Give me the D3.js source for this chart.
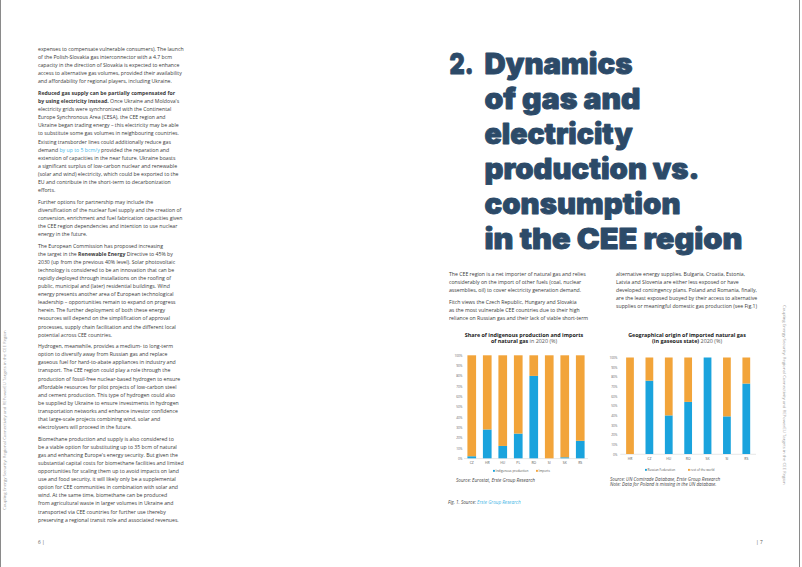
<!DOCTYPE html>
<html><head><meta charset="utf-8">
<script src="https://cdn.jsdelivr.net/npm/d3@7"></script>
<style>html,body{margin:0;padding:0;background:#fff;}svg{display:block}</style>
</head><body>
<svg id="c" width="802" height="567"></svg>
<script>
// ---------- chart data ----------
const c1Categories = ["CZ","HR","HU","PL","RO","SI","SK","RS"];
const c1Indigenous = [2, 28, 12, 24, 80, 0, 1, 17];
const c1Imports    = [98, 72, 88, 76, 20, 100, 99, 83];
const c1Series = ["Indigenous production","Imports"];

const c2Categories = ["HR","CZ","HU","RO","SK","SI","RS"];
const c2Russia = [0, 76, 40, 54, 100, 39, 73];
const c2Rest   = [100, 24, 60, 46, 0, 61, 27];
const c2Series = ["Russian Federation","rest of the world"];

const yTickValues = [0,10,20,30,40,50,60,70,80,90,100];

const BLUE = "#1aa3dd", ORANGE = "#f2a43a", TEXT = "#3a3a3a", NAVY = "#2c4a68", LINK = "#3fb6e6";
const BODY_FONT = "'Open Sans', 'Noto Sans', sans-serif";

const svg = d3.select("#c");
svg.append("rect").attr("width",802).attr("height",567).attr("fill","#fff");

// page edges
svg.append("line").attr("x1",0.5).attr("x2",0.5).attr("y1",0).attr("y2",567).attr("stroke","#8a8a8a").attr("stroke-width",1);
svg.append("line").attr("x1",799.5).attr("x2",799.5).attr("y1",0).attr("y2",567).attr("stroke","#8a8a8a").attr("stroke-width",1);

// ---------- text helper ----------
// markup: **bold**, [[link]]
function parseSegs(line){
  const out=[]; const re=/(\*\*[^*]+\*\*|\[\[[^\]]+\]\])/g; let last=0, m;
  while((m=re.exec(line))){ if(m.index>last) out.push({t:line.slice(last,m.index)});
    const s=m[0]; if(s.startsWith("**")) out.push({t:s.slice(2,-2),b:true}); else out.push({t:s.slice(2,-2),l:true});
    last=m.index+s.length; }
  if(last<line.length) out.push({t:line.slice(last)});
  return out;
}
function block(g, x, y0, lh, pgap, paras, size, opts={}){
  let y=y0;
  paras.forEach(p=>{ p.forEach(line=>{
      const t=g.append("text").attr("x",x).attr("y",y).attr("font-family",opts.font||BODY_FONT)
        .attr("font-size",size).attr("fill",opts.fill||TEXT).attr("font-style",opts.italic?"italic":null);
      parseSegs(line).forEach(s=>{ t.append("tspan").text(s.t)
        .attr("font-weight",s.b?700:null).attr("fill",s.l?LINK:null); });
      y+=lh; });
    y+=pgap; });
}

// ---------- left page body ----------
const leftParas = [
 ["expenses to compensate vulnerable consumers). The launch",
  "of the Polish-Slovakia gas interconnector with a 4.7 bcm",
  "capacity in the direction of Slovakia is expected to enhance",
  "access to alternative gas volumes, provided their availability",
  "and affordability for regional players, including Ukraine."],
 ["**Reduced gas supply can be partially compensated for**",
  "**by using electricity instead.** Once Ukraine and Moldova's",
  "electricity grids were synchronized with the Continental",
  "Europe Synchronous Area (CESA), the CEE region and",
  "Ukraine began trading energy – this electricity may be able",
  "to substitute some gas volumes in neighbouring countries.",
  "Existing transborder lines could additionally reduce gas",
  "demand [[by up to 5 bcm/y]] provided the reparation and",
  "extension of capacities in the near future. Ukraine boasts",
  "a significant surplus of low-carbon nuclear and renewable",
  "(solar and wind) electricity, which could be exported to the",
  "EU and contribute in the short-term to decarbonization",
  "efforts."],
 ["Further options for partnership may include the",
  "diversification of the nuclear fuel supply and the creation of",
  "conversion, enrichment and fuel fabrication capacities given",
  "the CEE region dependencies and intention to use nuclear",
  "energy in the future."],
 ["The European Commission has proposed increasing",
  "the target in the **Renewable Energy** Directive to 45% by",
  "2030 (up from the previous 40% level). Solar photovoltaic",
  "technology is considered to be an innovation that can be",
  "rapidly deployed through installations on the roofing of",
  "public, municipal and (later) residential buildings. Wind",
  "energy presents another area of European technological",
  "leadership – opportunities remain to expand on progress",
  "herein. The further deployment of both these energy",
  "resources will depend on the simplification of approval",
  "processes, supply chain facilitation and the different local",
  "potential across CEE countries."],
 ["Hydrogen, meanwhile, provides a medium- to long-term",
  "option to diversify away from Russian gas and replace",
  "gaseous fuel for hard-to-abate appliances in industry and",
  "transport. The CEE region could play a role through the",
  "production of fossil-free nuclear-based hydrogen to ensure",
  "affordable resources for pilot projects of low-carbon steel",
  "and cement production. This type of hydrogen could also",
  "be supplied by Ukraine to ensure investments in hydrogen",
  "transportation networks and enhance investor confidence",
  "that large-scale projects combining wind, solar and",
  "electrolysers will proceed in the future."],
 ["Biomethane production and supply is also considered to",
  "be a viable option for substituting up to 35 bcm of natural",
  "gas and enhancing Europe's energy security. But given the",
  "substantial capital costs for biomethane facilities and limited",
  "opportunities for scaling them up to avoid impacts on land",
  "use and food security, it will likely only be a supplemental",
  "option for CEE communities in combination with solar and",
  "wind. At the same time, biomethane can be produced",
  "from agricultural waste in larger volumes in Ukraine and",
  "transported via CEE countries for further use thereby",
  "preserving a regional transit role and associated revenues."]
];

// calibrate body font size so the reference line is ~146px wide
const probe = svg.append("text").attr("font-family",BODY_FONT).attr("font-size",10).text(leftParas[0][0]);
const bodySize = 10*146/probe.node().getComputedTextLength();
probe.remove();

block(svg.append("g"), 38, 51, 8.1, 3.4, leftParas, bodySize);

// ---------- right page body ----------
block(svg.append("g"), 449, 276, 8.0, 4, [
 ["The CEE region is a net importer of natural gas and relies",
  "considerably on the import of other fuels (coal, nuclear",
  "assemblies, oil) to cover electricity generation demand."],
 ["Fitch views the Czech Republic, Hungary and Slovakia",
  "as the most vulnerable CEE countries due to their high",
  "reliance on Russian gas and their lack of viable short-term"]], bodySize);
block(svg.append("g"), 616, 276, 8.0, 4, [
 ["alternative energy supplies. Bulgaria, Croatia, Estonia,",
  "Latvia and Slovenia are either less exposed or have",
  "developed contingency plans. Poland and Romania, finally,",
  "are the least exposed buoyed by their access to alternative",
  "supplies or meaningful domestic gas production (see Fig.1)"]], bodySize);

// ---------- headline ----------
const head = svg.append("g").attr("fill",NAVY).attr("stroke",NAVY).attr("stroke-width",0.9).attr("stroke-linejoin","round")
  .attr("font-family","'Inter','Roboto','Open Sans',sans-serif").attr("font-weight",900).attr("font-size",28.5);
head.append("text").attr("x",449.5).attr("y",73.5).attr("textLength",24).attr("lengthAdjust","spacingAndGlyphs").text("2.");
const headLines = [["Dynamics",73.5,148],["of gas and",108.5,156],["electricity",143.5,148],["production vs.",178.5,215],["consumption",213.5,196],["in the CEE region",248.5,258]];
headLines.forEach(([t,y,w])=>head.append("text").attr("x",484.5).attr("y",y).attr("textLength",w).attr("lengthAdjust","spacingAndGlyphs").text(t));

// ---------- charts ----------
function drawChart(opt){
  const g = svg.append("g");
  const x = d3.scaleBand().domain(opt.cats).range(opt.xRange).paddingInner(opt.pad).paddingOuter(opt.pad/2);
  const y = d3.scaleLinear().domain([0,100]).range(opt.yRange);
  const rows = opt.cats.map((c,i)=>({cat:c, a:opt.a[i], b:opt.b[i]}));
  const stack = d3.stack().keys(["a","b"])(rows);
  const colors = [BLUE, ORANGE];
  // title
  opt.title.forEach((line,i)=>{
    const t=g.append("text").attr("x",opt.titleX).attr("y",opt.titleY+i*6.8).attr("text-anchor","middle")
      .attr("font-family",BODY_FONT).attr("font-size",5.4).attr("fill","#222");
    parseSegs(line).forEach(s=>t.append("tspan").text(s.t).attr("font-weight",s.b?700:400).attr("fill",s.b?"#222":"#555"));
  });
  // y axis
  const ya = g.append("g").attr("transform",`translate(${opt.yLabelX},0)`)
    .call(d3.axisLeft(y).tickValues(yTickValues).tickFormat(d=>d+"%").tickSize(0).tickPadding(0));
  ya.select(".domain").remove();
  ya.selectAll("text").attr("font-size",3.2).attr("font-family",BODY_FONT).attr("fill","#666");
  // baseline
  g.append("line").attr("x1",opt.xRange[0]).attr("x2",opt.xRange[1]).attr("y1",y(0)+0.3).attr("y2",y(0)+0.3).attr("stroke","#cfcfcf").attr("stroke-width",0.5);
  // bars
  stack.forEach((s,si)=>{
    g.append("g").attr("fill",colors[si]).selectAll("rect").data(s).join("rect")
      .attr("x",d=>x(d.data.cat)).attr("width",x.bandwidth())
      .attr("y",d=>y(d[1])).attr("height",d=>y(d[0])-y(d[1]));
  });
  // x axis labels
  const xa = g.append("g").attr("transform",`translate(0,${y(0)})`)
    .call(d3.axisBottom(x).tickSize(0).tickPadding(opt.xPad));
  xa.select(".domain").remove();
  xa.selectAll("text").attr("font-size",3.4).attr("font-family",BODY_FONT).attr("fill","#555");
  // legend
  const lg = g.append("g").attr("font-family",BODY_FONT).attr("font-size",3.1).attr("fill","#555");
  opt.series.forEach((name,i)=>{
    const lx = opt.legendX[i];
    lg.append("rect").attr("x",lx).attr("y",opt.legendY-2.1).attr("width",1.9).attr("height",1.9).attr("fill",colors[i]);
    lg.append("text").attr("x",lx+2.6).attr("y",opt.legendY).text(name);
  });
  // source
  opt.source.forEach((s,i)=>g.append("text").attr("x",opt.sourceX).attr("y",opt.sourceY+i*5.6)
    .attr("font-family",BODY_FONT).attr("font-style","italic").attr("font-size",4.6).attr("fill","#444").text(s));
}

drawChart({cats:c1Categories, a:c1Indigenous, b:c1Imports, series:c1Series,
  xRange:[464,588], pad:0.44, yRange:[458.3,355.3], yLabelX:462.5, xPad:3.5,
  title:["**Share of indigenous production and imports**","**of natural gas** in 2020 (%)"], titleX:524, titleY:336.5,
  legendX:[493,536], legendY:472, source:["Source: Eurostat, Erste Group Research"], sourceX:456, sourceY:481.5});

drawChart({cats:c2Categories, a:c2Russia, b:c2Rest, series:c2Series,
  xRange:[620.3,756], pad:0.6, yRange:[454,357.5], yLabelX:617.5, xPad:4,
  title:["**Geographical origin of imported natural gas**","**(in gaseous state)** 2020 (%)"], titleX:687, titleY:336.5,
  legendX:[645,688], legendY:471, source:["Source: UN Comtrade Database, Erste Group Research","Note: Data for Poland is missing in the UN database."], sourceX:610, sourceY:480.5});

// figure caption
const cap = svg.append("text").attr("x",448).attr("y",503.5).attr("font-family",BODY_FONT).attr("font-style","italic").attr("font-size",4.6).attr("fill","#444");
cap.append("tspan").text("Fig. 1. Source: ");
cap.append("tspan").attr("fill",LINK).text("Erste Group Research");

// side running titles
const runTitle = "Coupling Energy Security: Regional Connectivity and REPowerEU Targets in the CEE Region";
svg.append("text").attr("transform","translate(5.5,510) rotate(-90)").attr("font-family",BODY_FONT).attr("font-size",4.3).attr("fill","#9a9a9a").text(runTitle);
svg.append("text").attr("transform","translate(782.5,305) rotate(90)").attr("font-family",BODY_FONT).attr("font-size",4.3).attr("fill","#9a9a9a").text(runTitle);

// page numbers
svg.append("text").attr("x",38).attr("y",544).attr("font-family",BODY_FONT).attr("font-size",4.8).attr("fill","#555").text("6 |");
svg.append("text").attr("x",756).attr("y",544).attr("font-family",BODY_FONT).attr("font-size",4.8).attr("fill","#555").text("| 7");
</script>
</body></html>
